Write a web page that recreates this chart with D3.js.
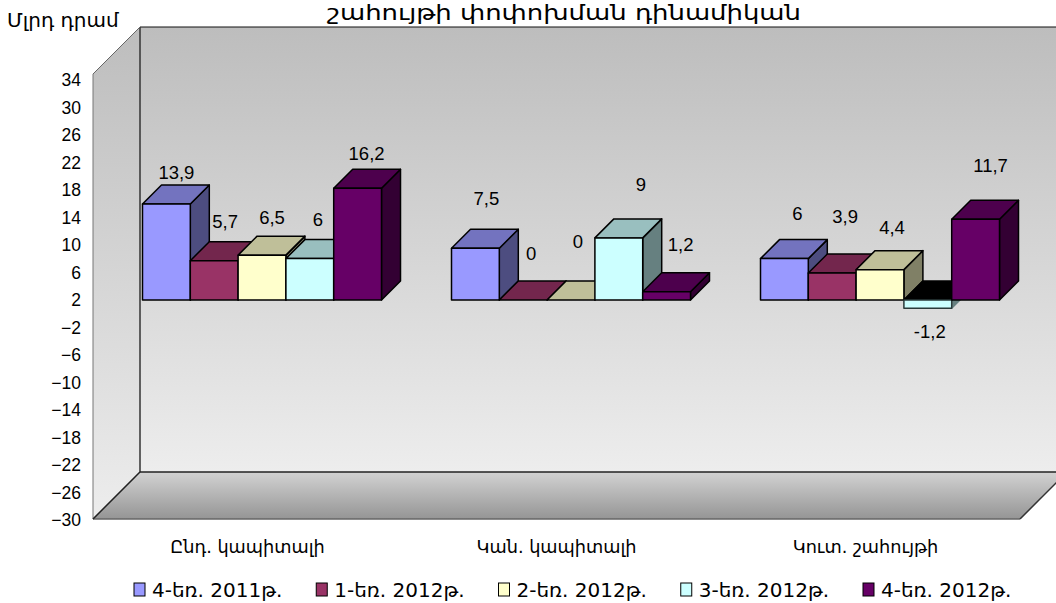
<!DOCTYPE html>
<html>
<head>
<meta charset="utf-8">
<script src="https://cdn.jsdelivr.net/npm/d3@7"></script>
<style>
  body { margin: 0; background: #fff; }
  text { fill: #000; }
</style>
</head>
<body>
<svg id="chart"></svg>
<script>
const categories = ["Ընդ. կապիտալի", "Կան. կապիտալի", "Կուտ. շահույթի"];
const seriesNames = ["4-եռ. 2011թ.", "1-եռ. 2012թ.", "2-եռ. 2012թ.", "3-եռ. 2012թ.", "4-եռ. 2012թ."];
const seriesColors = ["#9999ff", "#993366", "#ffffcc", "#ccffff", "#660066"];

const q4_2011 = [13.9, 7.5, 6];
const q1_2012 = [5.7, 0, 3.9];
const q2_2012 = [6.5, 0, 4.4];
const q3_2012 = [6, 9, -1.2];
const q4_2012 = [16.2, 1.2, 11.7];
const allSeries = [q4_2011, q1_2012, q2_2012, q3_2012, q4_2012];

const axisTicks = d3.range(-30, 35, 4);

// label offsets from the bar's top front edge, they are uneven in the original
const labelDx = [[10, 11, 10, 8, 9], [11, 8, 7, 22, 14], [13, 13, 12, 2, 15]];
const labelDy = [[-32, -39, -38, -39, -35], [-50, -46, -58, -53, -47], [-45, -57, -42, 23, -54]];

const width = 1056;
const height = 603;
const armenian = "'DejaVu Sans', sans-serif";
const latin = "'Liberation Sans', Arial, sans-serif";

const wall = { left: 140, right: 1067, top: 27, bottom: 472 };
const front = { left: 93, right: 1020, top: 74, bottom: 519 };
const depth = 19;

const svg = d3.select("svg#chart")
  .attr("width", width)
  .attr("height", height)
  .style("display", "block");

const defs = svg.append("defs");

function gradient(id, stops) {
  const g = defs.append("linearGradient")
    .attr("id", id)
    .attr("x1", 0).attr("y1", 0)
    .attr("x2", 0).attr("y2", 1);
  stops.forEach((c, i) => {
    g.append("stop").attr("offset", i / (stops.length - 1)).attr("stop-color", c);
  });
}
gradient("wallFill", ["#bdbdbd", "#ededed"]);
gradient("floorFill", ["#d2d2d2", "#959595"]);

const poly = pts => pts.map(p => p.join(",")).join(" ");

function edge(a, b, color, w) {
  svg.append("line")
    .attr("x1", a[0]).attr("y1", a[1])
    .attr("x2", b[0]).attr("y2", b[1])
    .style("stroke", color)
    .style("stroke-width", w);
}

// back wall, side wall, floor
svg.append("polygon")
  .attr("points", poly([[wall.left, wall.top], [wall.right, wall.top], [wall.right, wall.bottom], [wall.left, wall.bottom]]))
  .style("fill", "url(#wallFill)");

svg.append("polygon")
  .attr("points", poly([[wall.left, wall.top], [front.left, front.top], [front.left, front.bottom], [wall.left, wall.bottom]]))
  .style("fill", "url(#wallFill)");

svg.append("polygon")
  .attr("points", poly([[wall.left, wall.bottom], [wall.right, wall.bottom], [front.right, front.bottom], [front.left, front.bottom]]))
  .style("fill", "url(#floorFill)");

edge([wall.left, wall.top], [wall.right, wall.top], "#111", 1);
edge([wall.left, wall.top], [wall.left, wall.bottom], "#333", 1.5);
edge([wall.left, wall.bottom], [wall.right, wall.bottom], "#222", 1.5);
edge([wall.left, wall.top], [front.left, front.top], "#666", 1);
edge([front.left, front.top], [front.left, front.bottom], "#777", 1);
edge([front.left, front.bottom], [front.right, front.bottom], "#666", 1.5);
edge([wall.left, wall.bottom], [front.left, front.bottom], "#222", 1.5);
edge([front.right, front.bottom], [wall.right, wall.bottom], "#333", 1.5);

// scales
const xGroup = d3.scaleBand().domain(categories).range([front.left, front.right]);
const xBar = d3.scaleBand().domain(d3.range(seriesNames.length)).range([0, 239]);
const groupPad = (xGroup.bandwidth() - 239) / 2 + 14.5;

const yBar = d3.scaleLinear().domain([-30, 34]).range([507, 65.4]);
const yAxis = d3.scaleLinear().domain([-30, 34]).range([520, 80]);

const shade = (c, k) => {
  const r = d3.rgb(c);
  return d3.rgb(r.r * k, r.g * k, r.b * k).formatHex();
};

// bars, painted left to right so the nearer faces overlap correctly
categories.forEach((cat, ci) => {
  allSeries.forEach((series, si) => {
    const v = series[ci];
    const x0 = xGroup(cat) + groupPad + xBar(si);
    const x1 = x0 + xBar.bandwidth();
    const yTop = yBar(Math.max(v, 0));
    const yBot = yBar(Math.min(v, 0));
    const color = seriesColors[si];
    const g = svg.append("g")
      .style("stroke", "#000")
      .style("stroke-width", 1.5)
      .style("stroke-linejoin", "round");

    g.append("polygon")
      .attr("points", poly([[x1, yTop], [x1 + depth, yTop - depth], [x1 + depth, yBot - depth], [x1, yBot]]))
      .style("fill", shade(color, 0.5))
      .style("stroke", v < 0 ? shade(color, 0.5) : "#000");
    g.append("polygon")
      .attr("points", poly([[x0, yTop], [x0 + depth, yTop - depth], [x1 + depth, yTop - depth], [x1, yTop]]))
      .style("fill", v < 0 ? "#000" : shade(color, 0.75));
    g.append("rect")
      .attr("x", x0)
      .attr("y", yTop)
      .attr("width", xBar.bandwidth())
      .attr("height", yBot - yTop)
      .style("fill", color)
      .style("stroke", v < 0 ? "#2a3a3a" : "#000");
  });
});

// value labels
categories.forEach((cat, ci) => {
  allSeries.forEach((series, si) => {
    const v = series[ci];
    svg.append("text")
      .attr("x", xGroup(cat) + groupPad + xBar(si) + xBar.bandwidth() / 2 + labelDx[ci][si])
      .attr("y", yBar(v) + labelDy[ci][si])
      .attr("dy", "0.35em")
      .attr("text-anchor", "middle")
      .style("font-family", latin)
      .style("font-size", "18.5px")
      .text(String(v).replace(".", ","));
  });
});

// value axis, labels only
const axis = svg.append("g")
  .attr("transform", "translate(88,0)")
  .call(d3.axisLeft(yAxis).tickValues(axisTicks).tickSize(0).tickPadding(7).tickFormat(d3.format("d")));
axis.select(".domain").remove();
axis.selectAll("text")
  .style("font-family", latin)
  .style("font-size", "17.5px");

// category labels
svg.selectAll("text.cat")
  .data(categories)
  .enter()
  .append("text")
  .attr("class", "cat")
  .attr("x", d => xGroup(d) + xGroup.bandwidth() / 2)
  .attr("y", 547)
  .attr("dy", "0.35em")
  .attr("text-anchor", "middle")
  .style("font-family", armenian)
  .style("font-size", "17.7px")
  .text(d => d);

// titles, the main one is stretched to keep it on the page at the original width
svg.append("text")
  .attr("x", 564)
  .attr("y", 20)
  .attr("text-anchor", "middle")
  .attr("textLength", 474)
  .attr("lengthAdjust", "spacingAndGlyphs")
  .style("font-family", armenian)
  .style("font-size", "21px")
  .text("շահույթի փոփոխման դինամիկան");

svg.append("text")
  .attr("x", 7)
  .attr("y", 27)
  .style("font-family", armenian)
  .style("font-size", "20px")
  .text("Մլրդ դրամ");

// legend
const legendX = d3.scalePoint().domain(seriesNames).range([134, 863]);
const legend = svg.selectAll("g.legend")
  .data(seriesNames)
  .enter()
  .append("g")
  .attr("class", "legend")
  .attr("transform", d => "translate(" + legendX(d) + ",583)");

legend.append("rect")
  .attr("width", 11)
  .attr("height", 13)
  .style("fill", (d, i) => seriesColors[i])
  .style("stroke", "#000")
  .style("stroke-width", 1);

legend.append("text")
  .attr("x", 18)
  .attr("y", 7)
  .attr("dy", "0.35em")
  .style("font-family", armenian)
  .style("font-size", "20px")
  .text(d => d);
</script>
</body>
</html>
